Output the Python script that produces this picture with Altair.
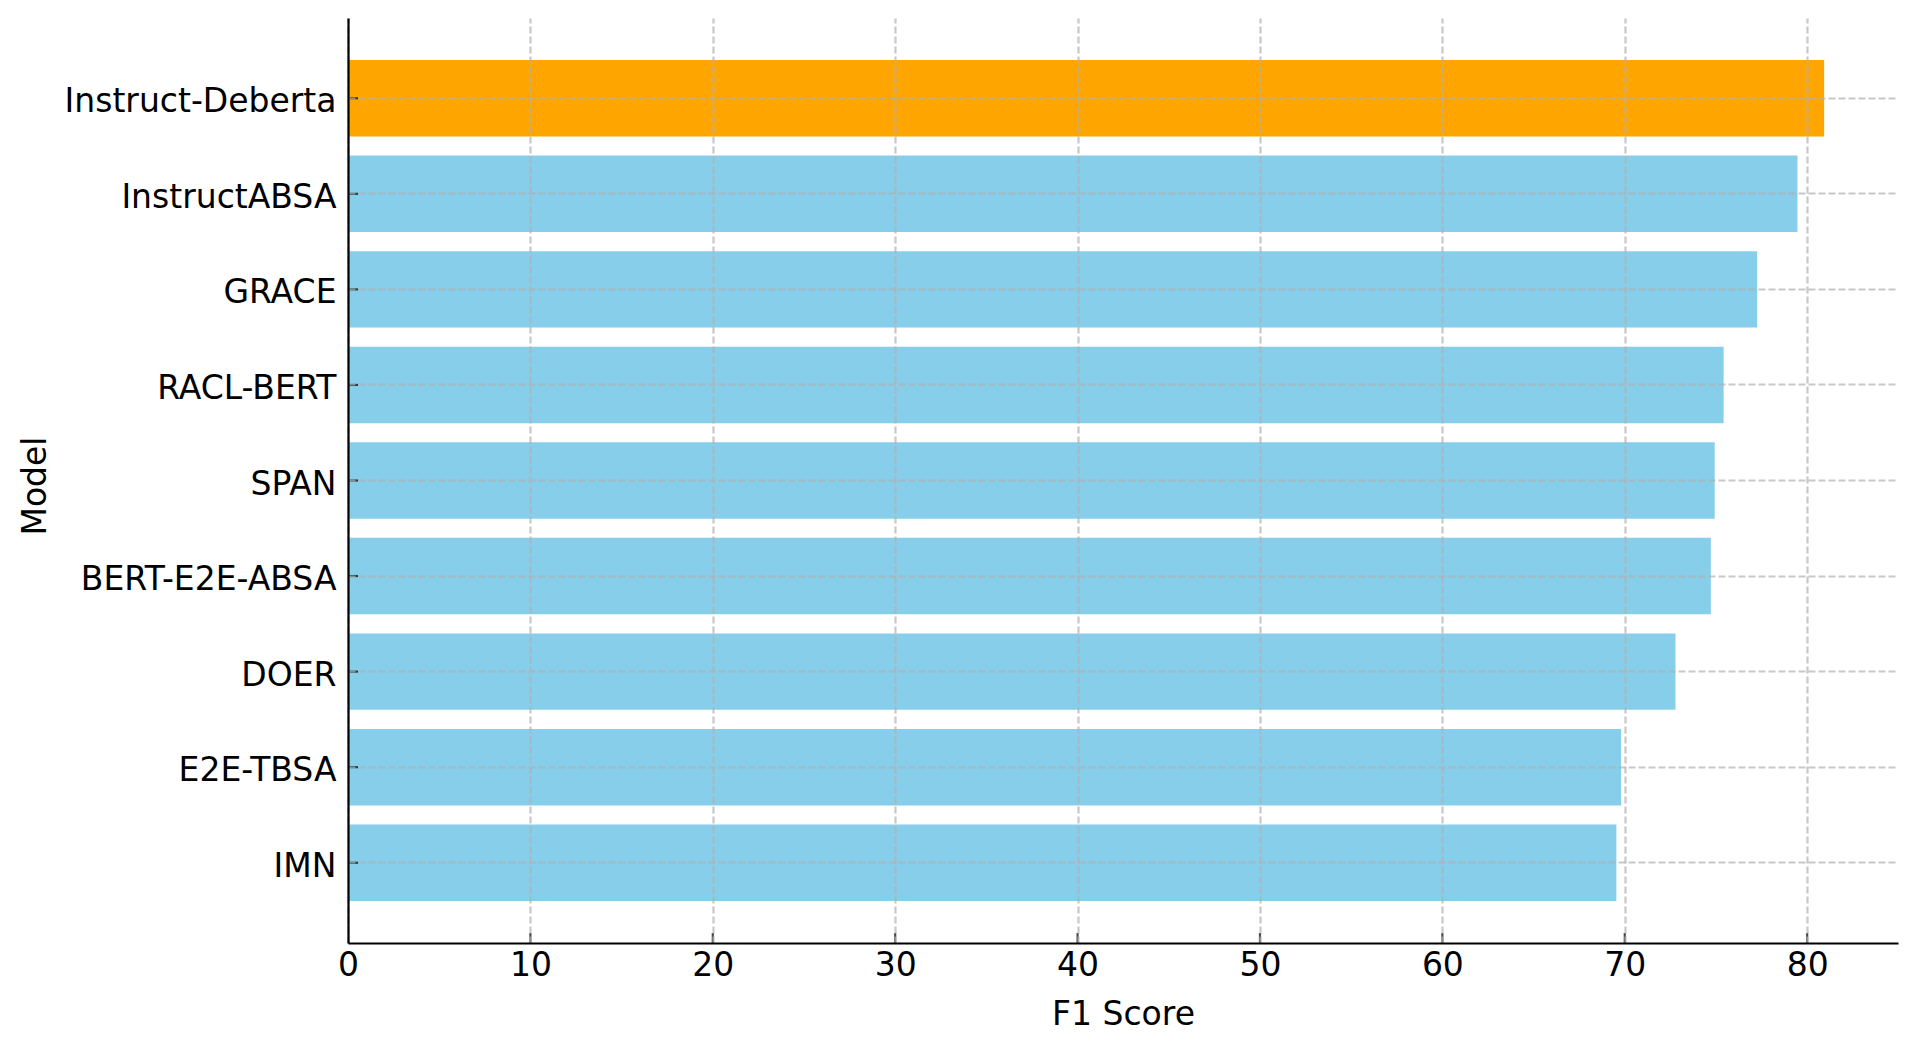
import altair as alt
import pandas as pd

# ---- data ----
models = ["Instruct-Deberta", "InstructABSA", "GRACE", "RACL-BERT", "SPAN",
          "BERT-E2E-ABSA", "DOER", "E2E-TBSA", "IMN"]
f1_scores = [80.93, 79.47, 77.26, 75.42, 74.93, 74.72, 72.78, 69.80, 69.54]
bar_colors = ["#FFA500"] + ["#87CEEB"] * 8
x_ticks = [0, 10, 20, 30, 40, 50, 60, 70, 80]

W, H = 1550, 925
FONT = "DejaVu Sans"

df = pd.DataFrame({"Model": models, "F1": f1_scores, "color": bar_colors})
tick_df = pd.DataFrame({"F1": x_ticks})

x_scale = alt.Scale(domain=[0, 84.98], nice=False, zero=True)
y_scale = alt.Scale(paddingInner=0.2, paddingOuter=0.44)

x_axis = alt.Axis(title="F1 Score", values=x_ticks, grid=True, ticks=False,
                  labelPadding=6, titlePadding=16, labelFlush=False,
                  zindex=1)
y_axis = alt.Axis(title="Model", grid=True, ticks=False, labelPadding=12,
                  bandPosition=0.5, labelLimit=0, labelOffset=4,
                  titleX=-313, titleY=H / 2 + 5, titleBaseline="middle",
                  zindex=1)

bars = alt.Chart(df).mark_bar().encode(
    y=alt.Y("Model:N", sort=models, scale=y_scale, axis=y_axis),
    x=alt.X("F1:Q", scale=x_scale, axis=x_axis),
    color=alt.Color("color:N", scale=None, legend=None),
)

# inward-pointing tick marks (matplotlib style)
x_tick_marks = alt.Chart(tick_df).mark_tick(
    orient="vertical", size=20, thickness=2.2, color="black", clip=True
).encode(
    x=alt.X("F1:Q", scale=x_scale, axis=x_axis),
    y=alt.value(H),
)

y_tick_marks = alt.Chart(df).mark_tick(
    orient="horizontal", size=20, thickness=2.2, color="black", clip=True
).encode(
    y=alt.Y("Model:N", sort=models, scale=y_scale, axis=y_axis),
    x=alt.value(0),
)

chart = alt.layer(bars, x_tick_marks, y_tick_marks).properties(
    width=W,
    height=H,
    autosize=alt.AutoSizeParams(type="none"),
    padding={"left": 340, "top": 10, "right": 10, "bottom": 95},
).configure_view(
    stroke=None
).configure_axis(
    domainColor="black",
    domainWidth=2.2,
    labelFont=FONT,
    labelFontSize=33,
    labelColor="black",
    titleFont=FONT,
    titleFontSize=33,
    titleFontWeight="normal",
    titleColor="black",
    gridColor="#b0b0b0",
    gridOpacity=0.7,
    gridDash=[7, 3],
    gridWidth=2.2,
)

chart.save("out.html", embed_options={"renderer": "svg", "actions": False})
